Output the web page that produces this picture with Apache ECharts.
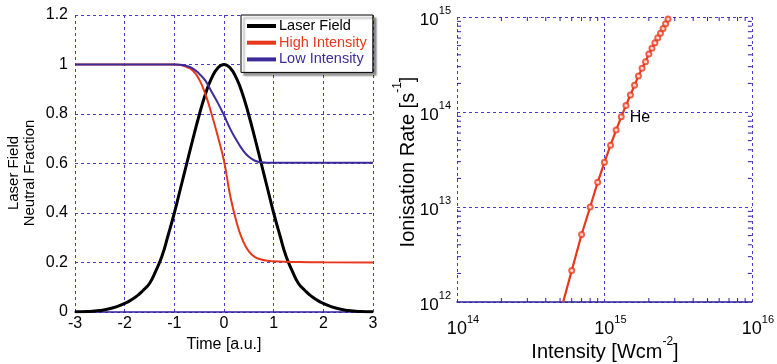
<!DOCTYPE html>
<html><head><meta charset="utf-8">
<script src="https://cdn.jsdelivr.net/npm/echarts@6/dist/echarts.min.js"></script>
<style>html,body{margin:0;padding:0;background:#fff}#c{width:777px;height:364px}</style>
</head><body><div id="c"></div>
<script>
// ---- Left panel data ----
const laserTime = [-3,-2.75,-2.5,-2.25,-2,-1.875,-1.75,-1.625,-1.5,-1.375,-1.25,-1.125,-1,-0.875,-0.75,-0.625,-0.5,-0.375,-0.25,-0.125,0,
                   0.125,0.25,0.375,0.5,0.625,0.75,0.875,1,1.125,1.25,1.375,1.5,1.625,1.75,1.875,2,2.25,2.5,2.75,3];
const laserField = [0.001,0.002,0.006,0.016,0.035,0.048,0.065,0.088,0.115,0.165,0.225,0.31,0.40,0.50,0.60,0.70,0.795,0.88,0.945,0.986,1.0,
                    0.986,0.945,0.88,0.795,0.70,0.60,0.50,0.40,0.31,0.225,0.165,0.115,0.088,0.065,0.048,0.035,0.016,0.006,0.002,0.001];
const ionTime = [-3,-2,-1.25,-1,-0.875,-0.75,-0.625,-0.5,-0.375,-0.25,-0.125,0,0.125,0.25,0.375,0.5,0.625,0.75,0.875,1,1.25,1.5,2,3];
const highIntensity = [1,1,1,1,0.998,0.99,0.975,0.94,0.88,0.80,0.71,0.61,0.47,0.365,0.29,0.245,0.222,0.212,0.207,0.205,0.203,0.202,0.201,0.2];
const lowIntensity = [1,1,1,1,0.999,0.994,0.983,0.963,0.935,0.89,0.845,0.795,0.74,0.695,0.655,0.627,0.611,0.605,0.603,0.603,0.603,0.603,0.603,0.603];
const leftNames = ['Laser Field','High Intensity','Low Intensity'];

// ---- Right panel data ----
const intensity = [6e14,7e14,8e14,9e14,1.0e15,1.1e15,1.2e15,1.3e15,1.4e15,1.5e15,1.6e15,1.7e15,1.8e15,1.9e15,2.0e15,2.1e15,2.2e15,2.3e15,2.4e15,2.5e15,2.6e15,2.7e15];
const rate = [2.14e12,5.13e12,1.0e13,1.82e13,2.95e13,4.47e13,6.46e13,8.9e13,1.17e14,1.51e14,1.91e14,2.4e14,2.88e14,3.39e14,4.07e14,4.68e14,5.37e14,6.03e14,6.76e14,7.59e14,8.51e14,9.55e14];
const lineStart = [5.25e14, 1e12];
const lineEnd = [2.74e15, 1e15];
const minorX = [2e14,3e14,4e14,5e14,6e14,7e14,8e14,9e14,2e15,3e15,4e15,5e15,6e15,7e15,8e15,9e15];
const minorY = [2e12,3e12,4e12,5e12,6e12,7e12,8e12,9e12,2e13,3e13,4e13,5e13,6e13,7e13,8e13,9e13,2e14,3e14,4e14,5e14,6e14,7e14,8e14,9e14];

const FONT = 'Liberation Sans, Arial, Helvetica, sans-serif';
const RED = '#e8381c', BLUE = '#3d2b9b', BLACK = '#000';
const GRID_C = '#4a3cc8', AXIS_C = '#2e1f9c';
const xMinR = 1e14, xMaxR = 1e16, yMinR = 1e12, yMaxR = 1e15;

const pairs = (xs, ys) => xs.map((x, i) => [x, ys[i]]);
const splitL = {show:true, lineStyle:{color:GRID_C, type:[3,3], width:1}};
const supRich = (size) => ({
  b:{fontSize:size, fontFamily:FONT, color:'#000', verticalAlign:'bottom', lineHeight:size+6},
  s:{fontSize:11, fontFamily:FONT, color:'#000', verticalAlign:'top', lineHeight:size+6}
});
const expFmt = v => '{b|10}{s|' + Math.round(Math.log10(v)) + '}';

function xTicks(params, api){
  const v = api.value(0);
  const b = api.coord([v, yMinR]), t = api.coord([v, yMaxR]);
  return {type:'group', children:[
    {type:'line', shape:{x1:b[0],y1:b[1],x2:b[0],y2:b[1]-4}, style:{stroke:AXIS_C, lineWidth:1}},
    {type:'line', shape:{x1:t[0],y1:t[1],x2:t[0],y2:t[1]+4}, style:{stroke:AXIS_C, lineWidth:1}}
  ]};
}
function yTicks(params, api){
  const v = api.value(1);
  const l = api.coord([xMinR, v]), r = api.coord([xMaxR, v]);
  return {type:'group', children:[
    {type:'line', shape:{x1:l[0],y1:l[1],x2:l[0]+4,y2:l[1]}, style:{stroke:AXIS_C, lineWidth:1}},
    {type:'line', shape:{x1:r[0],y1:r[1],x2:r[0]-4,y2:r[1]}, style:{stroke:AXIS_C, lineWidth:1}}
  ]};
}

const chart = echarts.init(document.getElementById('c'), null, {renderer:'canvas'});
chart.setOption({
  animation:false,
  backgroundColor:'#fff',
  grid:[
    {left:75, top:15, width:298, height:297},
    {left:457, top:17, width:296, height:285}
  ],
  xAxis:[
    {type:'value', gridIndex:0, min:-3, max:3, interval:1,
     axisLine:{show:true, onZero:false, lineStyle:{color:AXIS_C, width:1.5}},
     axisTick:{show:false}, splitLine:splitL,
     axisLabel:{fontSize:16, fontFamily:FONT, color:'#000', margin:4}},
    {type:'log', gridIndex:1, min:xMinR, max:xMaxR, logBase:10,
     axisLine:{show:true, onZero:false, lineStyle:{color:AXIS_C, width:1.5}},
     axisTick:{show:false}, splitLine:splitL,
     axisLabel:{formatter:expFmt, rich:supRich(18), margin:12, padding:[0,0,0,12]}}
  ],
  yAxis:[
    {type:'value', gridIndex:0, min:0, max:1.2, interval:0.2,
     axisLine:{show:false}, axisTick:{show:false}, splitLine:splitL,
     axisLabel:{fontSize:16, fontFamily:FONT, color:'#000', margin:7}},
    {type:'log', gridIndex:1, min:yMinR, max:yMaxR, logBase:10,
     axisLine:{show:false}, axisTick:{show:false}, splitLine:splitL,
     axisLabel:{formatter:expFmt, rich:supRich(17), margin:6}}
  ],
  legend:{
    data:[
      {name:leftNames[0], textStyle:{color:BLACK}},
      {name:leftNames[1], textStyle:{color:RED}},
      {name:leftNames[2], textStyle:{color:BLUE}}
    ],
    orient:'vertical', left:241, top:15,
    icon:'rect', itemWidth:29, itemHeight:4, itemGap:0.7,
    padding:[3,6,5,6],
    backgroundColor:'#fff', borderColor:'#000', borderWidth:1, borderRadius:0,
    shadowColor:'rgba(0,0,0,0.45)', shadowBlur:2, shadowOffsetX:3, shadowOffsetY:3,
    textStyle:{fontSize:14.5, fontFamily:FONT, lineHeight:16, padding:[0,0,0,-2]},
    selectedMode:false
  },
  series:[
    {name:leftNames[0], type:'line', xAxisIndex:0, yAxisIndex:0, data:pairs(laserTime, laserField),
     smooth:true, showSymbol:false, lineStyle:{color:BLACK, width:3}, itemStyle:{color:BLACK}, z:3},
    {name:leftNames[1], type:'line', xAxisIndex:0, yAxisIndex:0, data:pairs(ionTime, highIntensity),
     smooth:true, showSymbol:false, lineStyle:{color:RED, width:2}, itemStyle:{color:RED}, z:4},
    {name:leftNames[2], type:'line', xAxisIndex:0, yAxisIndex:0, data:pairs(ionTime, lowIntensity),
     smooth:true, showSymbol:false, lineStyle:{color:BLUE, width:2}, itemStyle:{color:BLUE}, z:4},
    {name:'He', type:'line', xAxisIndex:1, yAxisIndex:1,
     data:[lineStart].concat(pairs(intensity, rate), [lineEnd]),
     showSymbol:false, lineStyle:{color:RED, width:2.2}, itemStyle:{color:RED}, z:4},
    {name:'He points', type:'scatter', xAxisIndex:1, yAxisIndex:1, data:pairs(intensity, rate),
     symbol:'emptyCircle', symbolSize:5, itemStyle:{color:RED, borderColor:RED, borderWidth:1}, z:5},
    {name:'minorX', type:'custom', xAxisIndex:1, yAxisIndex:1, renderItem:xTicks,
     data:minorX.map(v => [v, yMinR]), encode:{x:0, y:1}, z:2, silent:true},
    {name:'minorY', type:'custom', xAxisIndex:1, yAxisIndex:1, renderItem:yTicks,
     data:minorY.map(v => [xMinR, v]), encode:{x:0, y:1}, z:2, silent:true}
  ],
  graphic:[
    {type:'text', x:22, y:173, rotation:Math.PI/2,
     style:{text:'Laser Field\nNeutral Fraction', font:'15px ' + FONT, fill:'#000', align:'center', verticalAlign:'middle', lineHeight:16}},
    {type:'text', x:224, y:345,
     style:{text:'Time [a.u.]', font:'16px ' + FONT, fill:'#000', align:'center', verticalAlign:'middle'}},
    {type:'text', x:405, y:162, rotation:Math.PI/2,
     style:{text:'{a|Ionisation Rate [s}{s|-1}{a|]}', align:'center', verticalAlign:'middle',
       rich:{a:{fontSize:20, fontFamily:FONT, fill:'#000', verticalAlign:'bottom', lineHeight:26},
             s:{fontSize:12, fontFamily:FONT, fill:'#000', verticalAlign:'top', lineHeight:26}}}},
    {type:'text', x:605, y:349,
     style:{text:'{a|Intensity [Wcm}{s|-2}{a|]}', align:'center', verticalAlign:'middle',
       rich:{a:{fontSize:20, fontFamily:FONT, fill:'#000', verticalAlign:'bottom', lineHeight:26},
             s:{fontSize:12, fontFamily:FONT, fill:'#000', verticalAlign:'top', lineHeight:26}}}},
    {type:'text', x:640, y:118,
     style:{text:'He', font:'16px ' + FONT, fill:'#000', align:'center', verticalAlign:'middle'}}
  ]
});
</script></body></html>
